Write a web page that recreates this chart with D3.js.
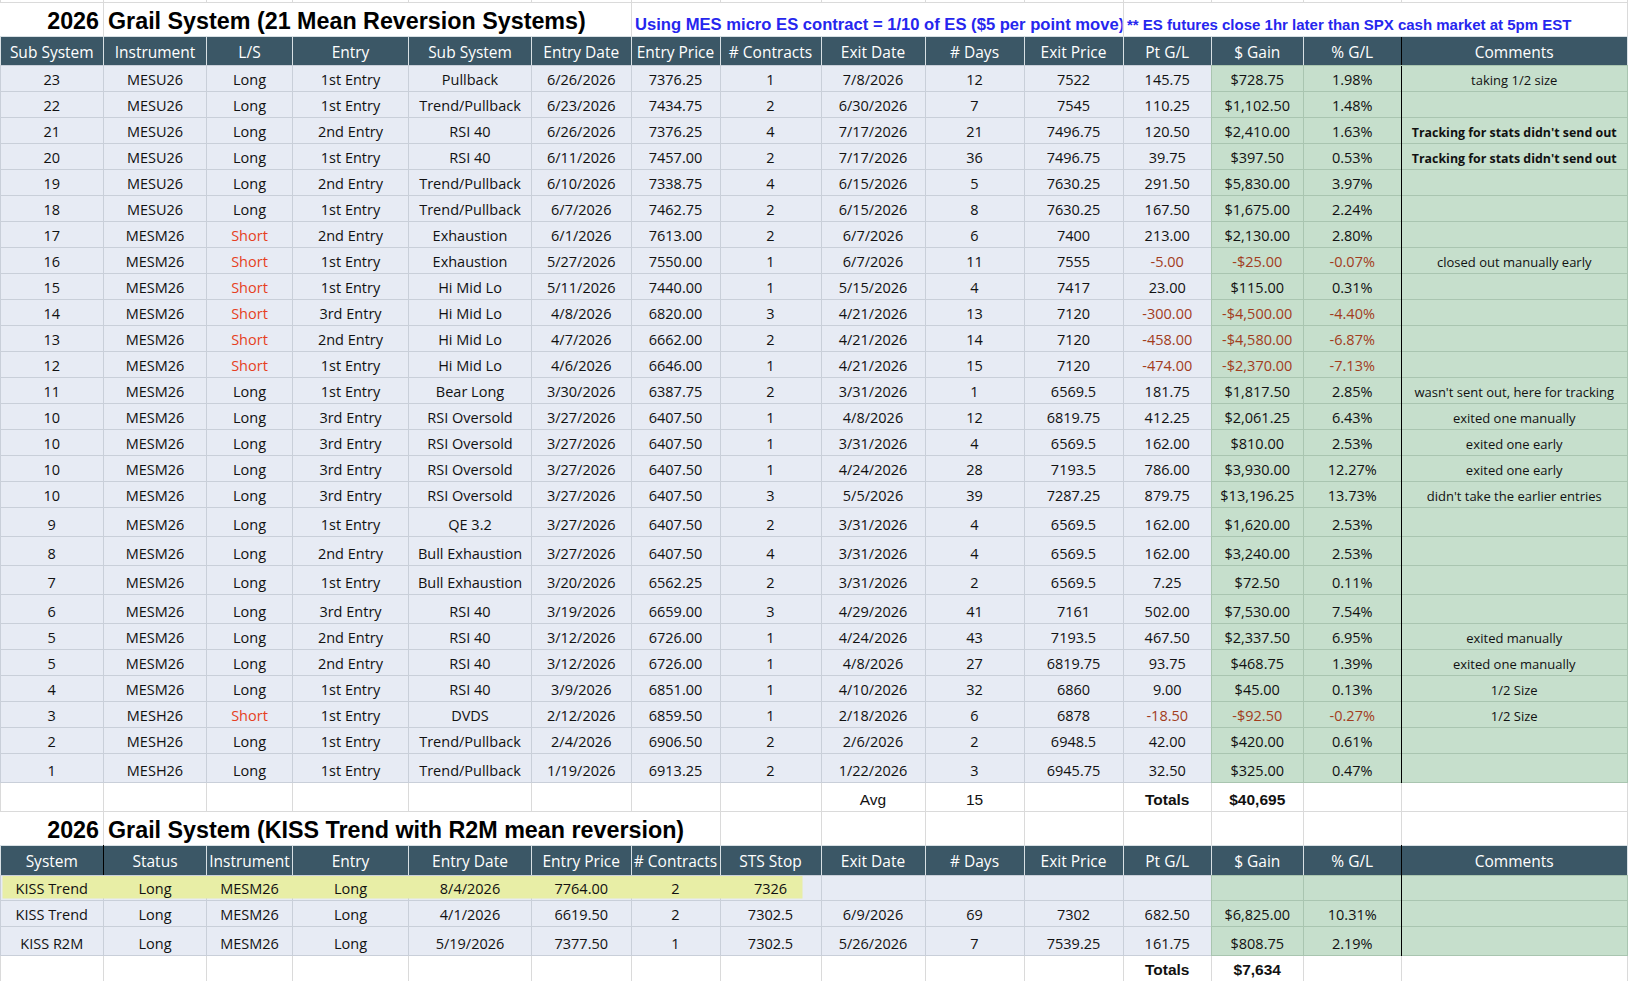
<!DOCTYPE html>
<html>
<head>
<meta charset="utf-8">
<script src="https://cdn.jsdelivr.net/npm/d3@7"></script>
<style>
  body { margin: 0; background: #fff; }
  text { font-family: "Open Sans", sans-serif; }
</style>
</head>
<body>
<svg id="sheet" width="1629" height="981"></svg>
<script>
// ---- main table: 21 mean reversion systems ----
const mainHeaders = ["Sub System", "Instrument", "L/S", "Entry", "Sub System", "Entry Date", "Entry Price",
  "# Contracts", "Exit Date", "# Days", "Exit Price", "Pt G/L", "$ Gain", "% G/L", "Comments"];
const subSystemIds = [23, 22, 21, 20, 19, 18, 17, 16, 15, 14, 13, 12, 11, 10, 10, 10, 10, 9, 8, 7, 6, 5, 5, 4, 3, 2, 1];
const instruments = ["MESU26", "MESU26", "MESU26", "MESU26", "MESU26", "MESU26", "MESM26", "MESM26", "MESM26",
  "MESM26", "MESM26", "MESM26", "MESM26", "MESM26", "MESM26", "MESM26", "MESM26", "MESM26", "MESM26", "MESM26",
  "MESM26", "MESM26", "MESM26", "MESM26", "MESH26", "MESH26", "MESH26"];
const sides = ["Long", "Long", "Long", "Long", "Long", "Long", "Short", "Short", "Short", "Short", "Short", "Short",
  "Long", "Long", "Long", "Long", "Long", "Long", "Long", "Long", "Long", "Long", "Long", "Long", "Short", "Long", "Long"];
const entries = ["1st Entry", "1st Entry", "2nd Entry", "1st Entry", "2nd Entry", "1st Entry", "2nd Entry", "1st Entry",
  "1st Entry", "3rd Entry", "2nd Entry", "1st Entry", "1st Entry", "3rd Entry", "3rd Entry", "3rd Entry", "3rd Entry",
  "1st Entry", "2nd Entry", "1st Entry", "3rd Entry", "2nd Entry", "2nd Entry", "1st Entry", "1st Entry", "1st Entry", "1st Entry"];
const subSystems = ["Pullback", "Trend/Pullback", "RSI 40", "RSI 40", "Trend/Pullback", "Trend/Pullback", "Exhaustion",
  "Exhaustion", "Hi Mid Lo", "Hi Mid Lo", "Hi Mid Lo", "Hi Mid Lo", "Bear Long", "RSI Oversold", "RSI Oversold",
  "RSI Oversold", "RSI Oversold", "QE 3.2", "Bull Exhaustion", "Bull Exhaustion", "RSI 40", "RSI 40", "RSI 40", "RSI 40",
  "DVDS", "Trend/Pullback", "Trend/Pullback"];
const entryDates = ["6/26/2026", "6/23/2026", "6/26/2026", "6/11/2026", "6/10/2026", "6/7/2026", "6/1/2026", "5/27/2026",
  "5/11/2026", "4/8/2026", "4/7/2026", "4/6/2026", "3/30/2026", "3/27/2026", "3/27/2026", "3/27/2026", "3/27/2026",
  "3/27/2026", "3/27/2026", "3/20/2026", "3/19/2026", "3/12/2026", "3/12/2026", "3/9/2026", "2/12/2026", "2/4/2026", "1/19/2026"];
const entryPrices = [7376.25, 7434.75, 7376.25, 7457, 7338.75, 7462.75, 7613, 7550, 7440, 6820, 6662, 6646, 6387.75,
  6407.5, 6407.5, 6407.5, 6407.5, 6407.5, 6407.5, 6562.25, 6659, 6726, 6726, 6851, 6859.5, 6906.5, 6913.25];
const contracts = [1, 2, 4, 2, 4, 2, 2, 1, 1, 3, 2, 1, 2, 1, 1, 1, 3, 2, 4, 2, 3, 1, 1, 1, 1, 2, 2];
const exitDates = ["7/8/2026", "6/30/2026", "7/17/2026", "7/17/2026", "6/15/2026", "6/15/2026", "6/7/2026", "6/7/2026",
  "5/15/2026", "4/21/2026", "4/21/2026", "4/21/2026", "3/31/2026", "4/8/2026", "3/31/2026", "4/24/2026", "5/5/2026",
  "3/31/2026", "3/31/2026", "3/31/2026", "4/29/2026", "4/24/2026", "4/8/2026", "4/10/2026", "2/18/2026", "2/6/2026", "1/22/2026"];
const days = [12, 7, 21, 36, 5, 8, 6, 11, 4, 13, 14, 15, 1, 12, 4, 28, 39, 4, 4, 2, 41, 43, 27, 32, 6, 2, 3];
const exitPrices = [7522, 7545, 7496.75, 7496.75, 7630.25, 7630.25, 7400, 7555, 7417, 7120, 7120, 7120, 6569.5, 6819.75,
  6569.5, 7193.5, 7287.25, 6569.5, 6569.5, 6569.5, 7161, 7193.5, 6819.75, 6860, 6878, 6948.5, 6945.75];
const ptGL = [145.75, 110.25, 120.5, 39.75, 291.5, 167.5, 213, -5, 23, -300, -458, -474, 181.75, 412.25, 162, 786, 879.75,
  162, 162, 7.25, 502, 467.5, 93.75, 9, -18.5, 42, 32.5];
const dollarGain = [728.75, 1102.5, 2410, 397.5, 5830, 1675, 2130, -25, 115, -4500, -4580, -2370, 1817.5, 2061.25, 810,
  3930, 13196.25, 1620, 3240, 72.5, 7530, 2337.5, 468.75, 45, -92.5, 420, 325];
const pctGL = [1.98, 1.48, 1.63, 0.53, 3.97, 2.24, 2.80, -0.07, 0.31, -4.40, -6.87, -7.13, 2.85, 6.43, 2.53, 12.27, 13.73,
  2.53, 2.53, 0.11, 7.54, 6.95, 1.39, 0.13, -0.27, 0.61, 0.47];
const comments = ["taking 1/2 size", "", "Tracking for stats didn't send out", "Tracking for stats didn't send out", "", "",
  "", "closed out manually early", "", "", "", "", "wasn't sent out, here for tracking", "exited one manually",
  "exited one early", "exited one early", "didn't take the earlier entries", "", "", "", "", "exited manually",
  "exited one manually", "1/2 Size", "1/2 Size", "", ""];

// ---- second table: KISS trend ----
const kissHeaders = ["System", "Status", "Instrument", "Entry", "Entry Date", "Entry Price", "# Contracts", "STS Stop",
  "Exit Date", "# Days", "Exit Price", "Pt G/L", "$ Gain", "% G/L", "Comments"];
const kissSystems = ["KISS Trend", "KISS Trend", "KISS R2M"];
const kissStatus = ["Long", "Long", "Long"];
const kissInstruments = ["MESM26", "MESM26", "MESM26"];
const kissEntries = ["Long", "Long", "Long"];
const kissEntryDates = ["8/4/2026", "4/1/2026", "5/19/2026"];
const kissEntryPrices = [7764, 6619.5, 7377.5];
const kissContracts = [2, 2, 1];
const kissStops = [7326, 7302.5, 7302.5];
const kissExitDates = ["", "6/9/2026", "5/26/2026"];
const kissDays = [null, 69, 7];
const kissExitPrices = [null, 7302, 7539.25];
const kissPtGL = [null, 682.5, 161.75];
const kissGain = [null, 6825, 808.75];
const kissPct = [null, 10.31, 2.19];

const title1 = "Grail System (21 Mean Reversion Systems)";
const title2 = "Grail System (KISS Trend with R2M mean reversion)";
const titleYear = "2026";
const note1 = "Using MES micro ES contract = 1/10 of ES ($5 per point move)";
const note2 = "** ES futures close 1hr later than SPX cash market at 5pm EST";

// ---- layout ----
const colEdges = [0, 103.5, 206.5, 292.5, 408.5, 531.5, 631, 720, 821, 925, 1024, 1123, 1211.5, 1303, 1401.5, 1627];
const mainRowH = [26, 26, 26, 26, 26, 26, 26, 26, 26, 26, 26, 26, 26, 26, 26, 26, 26,
  29, 29, 29, 29, 26, 26, 26, 26, 26, 29];
const kissRowH = [25.5, 26, 29];

const headerFill = "#3b5766";
const blueFill = "#e7ebf4";
const greenFill = "#c6dfcc";
const blueLine = "#c9cfd9";
const greenLine = "#a9c5b0";
const gridLine = "#dadada";
const negColor = "#a23c1c";
const shortColor = "#e63f22";
const noteBlue = "#2626ee";
const sheetFont = "'Liberation Sans', Arial, sans-serif";

const locale = d3.formatLocale({decimal: ".", thousands: ",", grouping: [3], currency: ["$", ""], minus: "-"});
const fmt2 = locale.format(".2f");
const fmtMoney = locale.format("$,.2f");
const fmtMoney0 = locale.format("$,.0f");
const fmtPct = v => fmt2(v) + "%";
const signColor = v => v < 0 ? negColor : null;

const svg = d3.select("#sheet");
const colMid = i => (colEdges[i] + colEdges[i + 1]) / 2;
const isGreen = i => i >= 12;

function bands(top, heights) {
  const ys = [top].concat(Array.from(d3.cumsum(heights), h => top + h));
  return heights.map((h, i) => ({y0: ys[i], y1: ys[i + 1]}));
}

function gridLines(y0, y1, edges) {
  svg.append("g").selectAll("line").data(edges).join("line")
    .attr("x1", d => d).attr("x2", d => d)
    .attr("y1", y0).attr("y2", y1)
    .attr("stroke", gridLine).attr("shape-rendering", "crispEdges");
  svg.append("line").attr("x1", 0).attr("x2", 1627).attr("y1", y1).attr("y2", y1)
    .attr("stroke", gridLine).attr("shape-rendering", "crispEdges");
}

function drawHeader(labels, y0, y1, blackEdges) {
  const g = svg.append("g");
  g.selectAll("rect").data(labels).join("rect")
    .attr("x", (d, i) => colEdges[i]).attr("y", y0)
    .attr("width", (d, i) => colEdges[i + 1] - colEdges[i]).attr("height", y1 - y0)
    .attr("fill", headerFill).attr("stroke", "#d8e0e4").attr("shape-rendering", "crispEdges");
  g.selectAll("text").data(labels).join("text")
    .attr("x", (d, i) => colMid(i)).attr("y", y1 - 8)
    .attr("text-anchor", "middle").attr("fill", "#fff").attr("font-size", 15.5)
    .text(d => d);
  blackEdges.forEach(e => {
    g.append("line").attr("x1", colEdges[e]).attr("x2", colEdges[e]).attr("y1", y0).attr("y2", y1)
      .attr("stroke", "#000").attr("shape-rendering", "crispEdges");
  });
}

function drawRows(rows, rowBands) {
  const rowG = svg.append("g").selectAll("g").data(rows).join("g");
  rowG.each(function (cells, r) {
    const b = rowBands[r];
    const g = d3.select(this);
    g.selectAll("rect").data(cells).join("rect")
      .attr("x", (d, i) => colEdges[i]).attr("y", b.y0)
      .attr("width", (d, i) => colEdges[i + 1] - colEdges[i]).attr("height", b.y1 - b.y0)
      .attr("fill", (d, i) => isGreen(i) ? greenFill : blueFill)
      .attr("stroke", (d, i) => isGreen(i) ? greenLine : blueLine)
      .attr("shape-rendering", "crispEdges");
    if (cells.highlight) {
      g.append("rect").attr("x", 2.5).attr("y", b.y0 + 1).attr("width", 800).attr("height", b.y1 - b.y0 - 3)
        .attr("fill", "#e8eea6");
    }
    g.selectAll("text").data(cells).join("text")
      .attr("x", (d, i) => colMid(i)).attr("y", b.y1 - 6.5)
      .attr("text-anchor", "middle")
      .attr("font-size", d => d.size || 14.5)
      .attr("font-weight", d => d.bold ? "bold" : null)
      .attr("fill", d => d.color || "#111")
      .text(d => d.t == null ? "" : d.t);
  });
}

// top sheet strip and title row
gridLines(0, 2.7, colEdges);
gridLines(2.7, 36.7, [103.5, 631, 1123, 1627]);

svg.append("text").attr("x", 99).attr("y", 29).attr("text-anchor", "end")
  .style("font-family", sheetFont).attr("font-weight", "bold").attr("font-size", 23.3)
  .text(titleYear);
svg.append("text").attr("x", 108).attr("y", 29)
  .style("font-family", sheetFont).attr("font-weight", "bold").attr("font-size", 23.3)
  .text(title1);

svg.append("clipPath").attr("id", "noteClip")
  .append("rect").attr("x", 631).attr("y", 3).attr("width", 491.5).attr("height", 33);
svg.append("text").attr("x", 635).attr("y", 30).attr("clip-path", "url(#noteClip)")
  .style("font-family", sheetFont).attr("font-weight", "bold").attr("font-size", 16.6)
  .attr("fill", noteBlue).text(note1);
svg.append("text").attr("x", 1127).attr("y", 30)
  .style("font-family", sheetFont).attr("font-weight", "bold").attr("font-size", 15)
  .attr("fill", noteBlue).text(note2);

// main table
const mainTop = 65.5;
const mainBands = bands(mainTop, mainRowH);
const mainBottom = mainBands[mainBands.length - 1].y1;

const mainRows = subSystemIds.map((id, i) => [
  {t: id},
  {t: instruments[i]},
  {t: sides[i], color: sides[i] === "Short" ? shortColor : null},
  {t: entries[i]},
  {t: subSystems[i]},
  {t: entryDates[i]},
  {t: fmt2(entryPrices[i])},
  {t: contracts[i]},
  {t: exitDates[i]},
  {t: days[i]},
  {t: String(exitPrices[i])},
  {t: fmt2(ptGL[i]), color: signColor(ptGL[i])},
  {t: fmtMoney(dollarGain[i]), color: signColor(dollarGain[i])},
  {t: fmtPct(pctGL[i]), color: signColor(pctGL[i])},
  {t: comments[i], size: comments[i].startsWith("Tracking") ? 12.4 : 13, bold: comments[i].startsWith("Tracking")}
]);

drawHeader(mainHeaders, 36.7, mainTop, [14]);
drawRows(mainRows, mainBands);
svg.append("line").attr("x1", colEdges[14]).attr("x2", colEdges[14]).attr("y1", mainTop).attr("y2", mainBottom)
  .attr("stroke", "#000").attr("shape-rendering", "crispEdges");

// avg / totals row
const avgBottom = mainBottom + 29;
gridLines(mainBottom, avgBottom, colEdges);
[[8, "Avg", false], [9, String(Math.round(d3.mean(days))), false], [11, "Totals", true],
  [12, fmtMoney0(d3.sum(dollarGain)), true]].forEach(([c, t, b]) => {
  svg.append("text").attr("x", colMid(c)).attr("y", avgBottom - 7).attr("text-anchor", "middle")
    .style("font-family", sheetFont).attr("font-size", 15.5).attr("font-weight", b ? "bold" : null)
    .attr("fill", "#111").text(t);
});

// second title row
const kissHeadTop = 845;
gridLines(avgBottom, kissHeadTop, [103.5, 720, 821, 925, 1024, 1123, 1211.5, 1303, 1401.5, 1627]);
svg.append("text").attr("x", 99).attr("y", 837.5).attr("text-anchor", "end")
  .style("font-family", sheetFont).attr("font-weight", "bold").attr("font-size", 23.3).text(titleYear);
svg.append("text").attr("x", 108).attr("y", 837.5)
  .style("font-family", sheetFont).attr("font-weight", "bold").attr("font-size", 23.3).text(title2);

// KISS table
const kissTop = 875;
const kissBands = bands(kissTop, kissRowH);
const kissBottom = kissBands[kissBands.length - 1].y1;
const kissRows = kissSystems.map((s, i) => {
  const row = [
    {t: s},
    {t: kissStatus[i]},
    {t: kissInstruments[i]},
    {t: kissEntries[i]},
    {t: kissEntryDates[i]},
    {t: fmt2(kissEntryPrices[i])},
    {t: kissContracts[i]},
    {t: String(kissStops[i])},
    {t: kissExitDates[i]},
    {t: kissDays[i]},
    {t: kissExitPrices[i] == null ? "" : String(kissExitPrices[i])},
    {t: kissPtGL[i] == null ? "" : fmt2(kissPtGL[i])},
    {t: kissGain[i] == null ? "" : fmtMoney(kissGain[i])},
    {t: kissPct[i] == null ? "" : fmtPct(kissPct[i])},
    {t: ""}
  ];
  row.highlight = kissExitDates[i] === "";
  return row;
});

drawHeader(kissHeaders, kissHeadTop, kissTop, [1, 14]);
drawRows(kissRows, kissBands);
svg.append("line").attr("x1", colEdges[14]).attr("x2", colEdges[14]).attr("y1", kissTop).attr("y2", kissBottom)
  .attr("stroke", "#000").attr("shape-rendering", "crispEdges");

// bottom totals row
gridLines(kissBottom, 990, colEdges);
[[11, "Totals"], [12, fmtMoney0(d3.sum(kissGain.filter(v => v != null)))]].forEach(([c, t]) => {
  svg.append("text").attr("x", colMid(c)).attr("y", kissBottom + 19.5).attr("text-anchor", "middle")
    .style("font-family", sheetFont).attr("font-size", 15.5).attr("font-weight", "bold")
    .attr("fill", "#111").text(t);
});
</script>
</body>
</html>
